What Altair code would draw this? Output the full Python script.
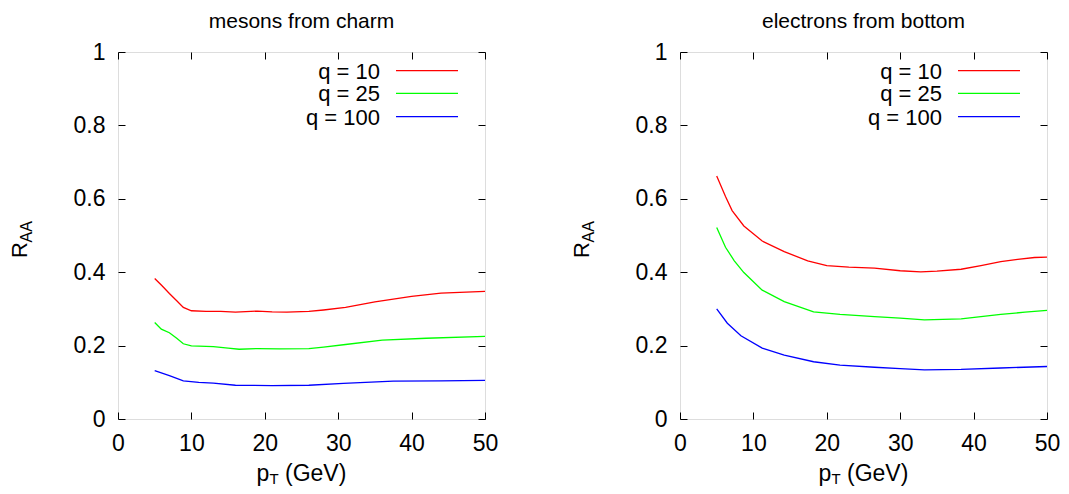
import altair as alt
import pandas as pd

FONT = "Liberation Sans"

series = ["q = 10", "q = 25", "q = 100"]
colors = ["#ff0000", "#00ff00", "#0000ff"]
x_ticks = [0, 10, 20, 30, 40, 50]
y_ticks = [0, 0.2, 0.4, 0.6, 0.8, 1]

# mesons from charm
charm_q10_pt = [5, 6, 7, 8, 8.9, 10, 12, 14, 16, 19, 21, 23, 26, 28, 31, 35, 40, 44, 50]
charm_q10_raa = [0.383, 0.363, 0.342, 0.322, 0.304, 0.295, 0.293, 0.293, 0.291, 0.294, 0.292,
                 0.291, 0.293, 0.297, 0.304, 0.319, 0.334, 0.343, 0.348]
charm_q25_pt = [5, 5.9, 7, 8, 8.9, 10, 13, 15, 16.5, 19, 22, 26, 28, 31, 36, 42, 50]
charm_q25_raa = [0.263, 0.245, 0.235, 0.220, 0.205, 0.199, 0.197, 0.193, 0.190, 0.192, 0.191,
                 0.192, 0.196, 0.203, 0.215, 0.220, 0.225]
charm_q100_pt = [5, 7, 8.9, 11, 13, 16, 21, 26, 30.7, 37.5, 44, 50]
charm_q100_raa = [0.132, 0.118, 0.104, 0.100, 0.098, 0.092, 0.091, 0.092, 0.097, 0.103, 0.104, 0.105]

# electrons from bottom
bottom_q10_pt = [5, 6.2, 7.1, 8.7, 11.2, 14.2, 17.4, 20, 23, 26.5, 30, 32.8, 35, 38.3, 41, 43.7, 46, 48.3, 50]
bottom_q10_raa = [0.662, 0.606, 0.568, 0.526, 0.485, 0.456, 0.431, 0.418, 0.414, 0.411, 0.404,
                  0.401, 0.403, 0.408, 0.418, 0.429, 0.435, 0.440, 0.441]
bottom_q25_pt = [5, 6.2, 7.4, 8.7, 11.2, 14.2, 18.2, 21.8, 26.5, 30, 33.3, 38.3, 43.7, 47, 50]
bottom_q25_raa = [0.522, 0.468, 0.431, 0.399, 0.351, 0.320, 0.292, 0.285, 0.279, 0.275, 0.270,
                  0.273, 0.285, 0.291, 0.296]
bottom_q100_pt = [5, 6.45, 8.3, 11.2, 14.2, 18.2, 21.8, 26.5, 30, 33.3, 38.3, 43.7, 50]
bottom_q100_raa = [0.300, 0.261, 0.227, 0.193, 0.174, 0.156, 0.147, 0.141, 0.137, 0.134, 0.135, 0.139, 0.143]


def make_df(parts):
    rows = []
    for name, xs, ys in parts:
        for i, (a, b) in enumerate(zip(xs, ys)):
            rows.append({"pt": a, "raa": b, "series": name, "order": i})
    return pd.DataFrame(rows)


charm_df = make_df([(series[0], charm_q10_pt, charm_q10_raa),
                    (series[1], charm_q25_pt, charm_q25_raa),
                    (series[2], charm_q100_pt, charm_q100_raa)])
bottom_df = make_df([(series[0], bottom_q10_pt, bottom_q10_raa),
                     (series[1], bottom_q25_pt, bottom_q25_raa),
                     (series[2], bottom_q100_pt, bottom_q100_raa)])

W = 367
H = 367
TICK = 7
TICK_FS = 23
LEG_FS = 22
AX_FS = 23
SUB_FS = 15
TITLE_FS = 21


def panel(df, title):
    xscale = alt.Scale(domain=[0, 50], nice=False, zero=False)
    yscale = alt.Scale(domain=[0, 1], nice=False, zero=False)
    cscale = alt.Scale(domain=series, range=colors)

    lines = alt.Chart(df).mark_line(strokeWidth=1.3, clip=True).encode(
        x=alt.X("pt:Q", scale=xscale, axis=alt.Axis(
            orient="bottom", values=x_ticks, title=None, domain=False, grid=False,
            offset=-TICK, tickSize=TICK, tickColor="black", labelPadding=13,
            labelFont=FONT, labelFontSize=TICK_FS, labelColor="black", labelFlush=False)),
        y=alt.Y("raa:Q", scale=yscale, axis=alt.Axis(
            orient="left", values=y_ticks, title=None, domain=False, grid=False, format="~g",
            offset=-TICK, tickSize=TICK, tickColor="black", labelPadding=13,
            labelFont=FONT, labelFontSize=TICK_FS, labelColor="black", labelFlush=False)),
        color=alt.Color("series:N", scale=cscale, legend=None),
        order="order:Q",
    )

    mirror = alt.Chart(df).mark_line(strokeOpacity=0).encode(
        x=alt.X("pt:Q", scale=xscale, axis=alt.Axis(
            orient="top", values=x_ticks, title=None, domain=False, grid=False, labels=False,
            offset=-TICK, tickSize=TICK, tickColor="black")),
        y=alt.Y("raa:Q", scale=yscale, axis=alt.Axis(
            orient="right", values=y_ticks, title=None, domain=False, grid=False, labels=False,
            offset=-TICK, tickSize=TICK, tickColor="black")),
        detail="series:N",
    )

    layers = [lines, mirror]

    # legend (inside, top right)
    leg_y = [18.7, 41.3, 64.7]
    for name, col, yy in zip(series, colors, leg_y):
        one = pd.DataFrame({"label": [name]})
        layers.append(alt.Chart(one).mark_text(
            align="right", baseline="middle", font=FONT, fontSize=LEG_FS, color="black"
        ).encode(text="label:N", x=alt.value(262), y=alt.value(yy + 1)))
        layers.append(alt.Chart(one).mark_rule(color=col, strokeWidth=1.3).encode(
            x=alt.value(278), x2=alt.value(340), y=alt.value(yy)))

    # panel title
    tdf = pd.DataFrame({"t": [title]})
    layers.append(alt.Chart(tdf).mark_text(
        align="center", baseline="alphabetic", font=FONT, fontSize=TITLE_FS, color="black"
    ).encode(text="t:N", x=alt.value(W / 2), y=alt.value(-24.5)))

    # x-axis title p_T (GeV)
    for txt, xx, yy, fs in [("p", 138.5, 428.5, AX_FS), ("T", 151.5, 431.5, SUB_FS),
                            ("(GeV)", 167, 428.5, AX_FS)]:
        d = pd.DataFrame({"t": [txt]})
        layers.append(alt.Chart(d).mark_text(
            align="left", baseline="alphabetic", font=FONT, fontSize=fs, color="black"
        ).encode(text="t:N", x=alt.value(xx), y=alt.value(yy)))

    # y-axis title R_AA
    for txt, xx, yy, fs in [("R", -91, 206, 22), ("AA", -86, 190.5, 16)]:
        d = pd.DataFrame({"t": [txt]})
        layers.append(alt.Chart(d).mark_text(
            align="left", baseline="alphabetic", font=FONT, fontSize=fs, color="black", angle=270
        ).encode(text="t:N", x=alt.value(xx), y=alt.value(yy)))

    return alt.layer(*layers).resolve_axis(x="independent", y="independent").properties(
        width=W, height=H)


left = panel(charm_df, "mesons from charm")
right = panel(bottom_df, "electrons from bottom")

chart = alt.hconcat(left, right, spacing=71).properties(
    padding={"left": 0, "top": 2, "right": -1, "bottom": 0}
).configure_view(stroke="black", strokeWidth=1.2).configure(background="white")

chart.save("out.html", embed_options={"renderer": "svg", "actions": False})
